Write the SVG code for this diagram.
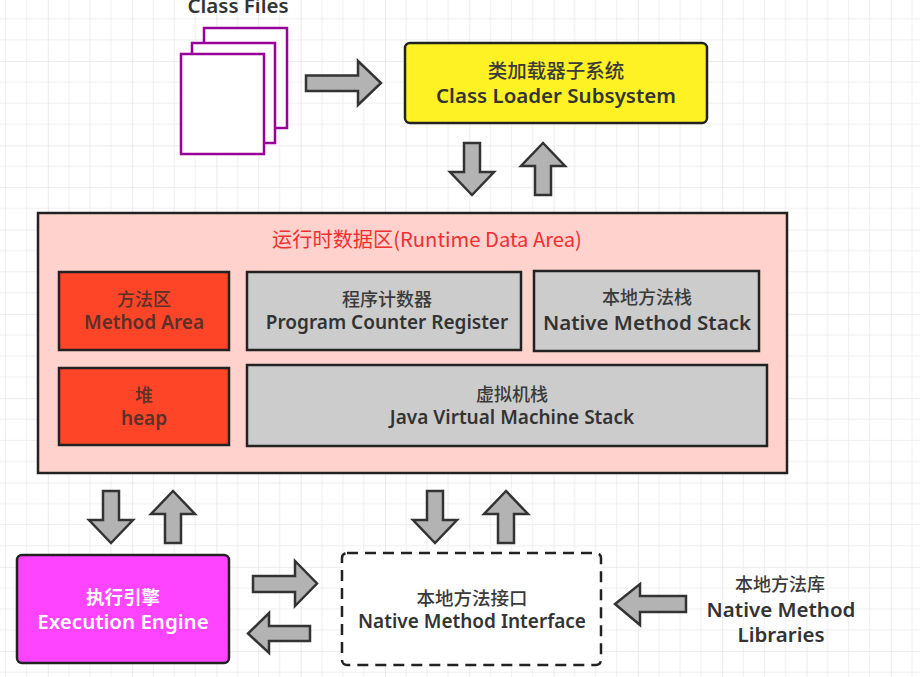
<svg xmlns="http://www.w3.org/2000/svg" width="920" height="677" viewBox="0 0 920 677">
<style>
.t{font-family:"Noto Sans CJK SC","Noto Sans",sans-serif;font-size:19.5px;text-anchor:middle;fill:#3a3a3a;font-weight:500}
.e{font-family:"Noto Sans","Noto Sans CJK SC",sans-serif;font-size:19px;text-anchor:middle;fill:#333;font-weight:600}
.w{font-size:20.5px}
.box{stroke:#222;stroke-width:2.5}
.gray{fill:#ccc}.red{fill:#ff4528}
.dk{fill:#5a3028}
.a{fill:#b3b3b3;stroke:#333;stroke-width:2.5;stroke-linejoin:miter}
.p{fill:#fff;stroke:#990099;stroke-width:2.5}
</style>
<defs>
<pattern id="g" x="47.8" y="61" width="84.3" height="84.3" patternUnits="userSpaceOnUse">
<path d="M21.1 0V84.3M42.2 0V84.3M63.2 0V84.3M0 21.1H84.3M0 42.2H84.3M0 63.2H84.3" stroke="#efefef" stroke-width="1" fill="none"/>
<path d="M0 0V84.3M0 0H84.3" stroke="#e6e6e6" stroke-width="1.6" fill="none"/>
</pattern>
<path id="d" class="a" d="M-8 0H8V29H22L0 52L-22 29H-8Z"/>
</defs>
<rect width="920" height="677" fill="#fff"/>
<rect width="920" height="677" fill="url(#g)"/>

<g id="class-files">
<text class="e w" x="238" y="13">Class Files</text>
<rect class="p" x="204" y="28" width="83" height="100"/>
<rect class="p" x="192" y="43" width="83" height="100"/>
<rect class="p" x="181" y="54" width="83" height="100"/>
</g>
<g id="class-loader">
<rect class="box" x="405" y="43" width="302" height="80" rx="5" fill="#fff224"/>
<text class="t" x="556" y="78">类加载器子系统</text>
<text class="e w" x="556" y="103">Class Loader Subsystem</text>
</g>
<g id="runtime-data-area">
<rect class="box" x="38" y="213" width="749" height="260" fill="#ffd2cd"/>
<text x="427" y="247" font-family="'Noto Sans CJK SC','Noto Sans',sans-serif" font-size="20.2" fill="#f03030" text-anchor="middle">运行时数据区(Runtime Data Area)</text>
</g>
<g id="method-area">
<rect class="box red" x="59" y="272" width="170" height="78"/>
<text class="t dk" x="144" y="306" style="font-size:18px">方法区</text>
<text class="e dk" x="144" y="329">Method Area</text>
</g>
<g id="pc-register">
<rect class="box gray" x="247" y="272" width="274" height="78"/>
<text class="t" x="387" y="306" style="font-size:18px">程序计数器</text>
<text class="e" x="387" y="329">Program Counter Register</text>
</g>
<g id="native-stack">
<rect class="box gray" x="534" y="271" width="225" height="80"/>
<text class="t" x="647" y="304" style="font-size:18px">本地方法栈</text>
<text class="e w" x="647" y="330">Native Method Stack</text>
</g>
<g id="heap">
<rect class="box red" x="59" y="368" width="170" height="77"/>
<text class="t dk" x="144" y="402" style="font-size:18px">堆</text>
<text class="e dk" x="144" y="425">heap</text>
</g>
<g id="jvm-stack">
<rect class="box gray" x="247" y="365" width="520" height="81"/>
<text class="t" x="512" y="401" style="font-size:18px">虚拟机栈</text>
<text class="e" x="512" y="424">Java Virtual Machine Stack</text>
</g>
<g id="execution-engine">
<rect class="box" x="17" y="555" width="212" height="108" rx="5" fill="#ff44ff"/>
<text class="t" x="123" y="604" style="fill:#fff;font-size:18.5px;font-weight:700">执行引擎</text>
<text class="e w" x="123" y="629" style="fill:#fff">Execution Engine</text>
</g>
<g id="native-interface">
<rect x="342" y="553" width="259" height="112" rx="5" fill="#fff" stroke="#222" stroke-width="2.5" stroke-dasharray="11 7"/>
<text class="t" x="472" y="605" style="font-size:18.5px">本地方法接口</text>
<text class="e" x="472" y="628">Native Method Interface</text>
</g>
<g id="native-libraries">
<text class="t" x="780" y="591" style="font-size:18px">本地方法库</text>
<text class="e w" x="781" y="617">Native Method</text>
<text class="e w" x="781" y="642">Libraries</text>
</g>
<g id="connectors">
<path class="a" d="M306 75.5H358V61L381 83L358 105V91H306Z"/>
<use href="#d" transform="translate(472 143)"/>
<use href="#d" transform="translate(543 195) scale(1 -1)"/>
<use href="#d" transform="translate(111 491)"/>
<use href="#d" transform="translate(173 543) scale(1 -1)"/>
<use href="#d" transform="translate(435 491)"/>
<use href="#d" transform="translate(506 543) scale(1 -1)"/>
<path class="a" d="M253 576H295V561L317 583.5L295 606V592H253Z"/>
<path class="a" d="M310 626H269V613L248 633.5L269 653V641H310Z"/>
<path class="a" d="M686 596H640V584L615 604L640 625V612H686Z"/>
</g>
</svg>
